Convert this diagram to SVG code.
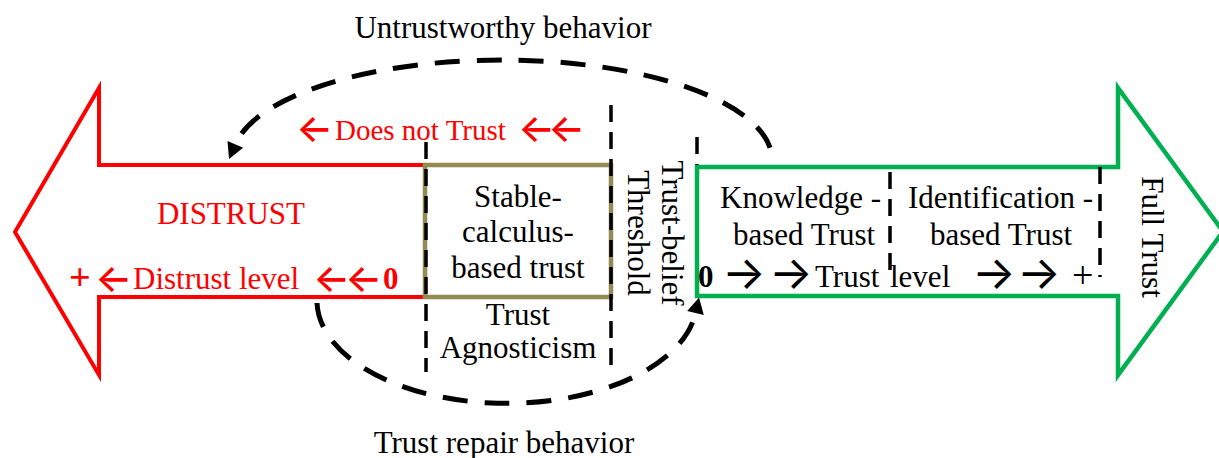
<svg xmlns="http://www.w3.org/2000/svg" width="1219" height="458" viewBox="0 0 1219 458">
  <style>
    text { font-family: "Liberation Serif", "Times New Roman", serif; font-size: 31px; fill: #000; }
    .red { fill: #FF0000; }
    .bold { font-weight: bold; }
    .mid { text-anchor: middle; }
    .arr { font-family: Inter, "DejaVu Sans", sans-serif; font-size: 39px; font-weight: 500; }
    .arr-g { font-family: Inter, "DejaVu Sans", sans-serif; font-size: 46px; font-weight: 400; }
    .zone { fill: none; stroke: #000; stroke-width: 3.5; stroke-dasharray: 17 10; }
    .loop { fill: none; stroke: #000; stroke-width: 5; stroke-dasharray: 25 17; }
  </style>
  <defs>
    <marker id="head" markerUnits="userSpaceOnUse" markerWidth="16" markerHeight="17" refX="0" refY="8.5" orient="auto" overflow="visible">
      <path d="M0,0 L16,8.5 L0,17 Z" fill="#000" stroke="none"/>
    </marker>
  </defs>
  <rect width="1219" height="458" fill="#fff"/>

  <!-- Distrust arrow (pointing left) -->
  <g id="distrust">
    <polygon points="15,232 99,88 99,165 425,165 425,297 99,297 99,375" fill="none" stroke="#FF0000" stroke-width="4" stroke-linejoin="miter"/>
    <text class="red mid" x="231" y="224">DISTRUST</text>
    <text class="red" y="290"><tspan x="69" class="bold" style="font-size:38px">+</tspan><tspan x="95" y="292" class="arr">←</tspan><tspan x="133" y="289">Distrust level</tspan><tspan x="313" y="292" class="arr">←</tspan><tspan x="345" y="292" class="arr">←</tspan><tspan x="383" y="289" class="bold">0</tspan></text>
    <text class="red" y="140" style="font-size:29px"><tspan x="296" y="142" class="arr">←</tspan><tspan x="335" y="140">Does not Trust</tspan><tspan x="518" y="142" class="arr">←</tspan><tspan x="548" y="142" class="arr">←</tspan></text>
  </g>

  <!-- Stable calculus-based trust -->
  <g id="calculus">
    <rect x="425" y="165" width="186" height="132" fill="none" stroke="#948A54" stroke-width="4.5"/>
    <text class="mid" x="518" y="207">Stable-</text>
    <text class="mid" x="518" y="242">calculus-</text>
    <text class="mid" x="518" y="278">based trust</text>
  </g>

  <!-- Trust agnosticism zone -->
  <g id="agnosticism">
    <text class="mid" x="518" y="325">Trust</text>
    <text class="mid" x="518" y="358">Agnosticism</text>
  </g>

  <!-- Trust-belief threshold (vertical) -->
  <g id="threshold">
    <text class="mid" transform="translate(662,233) rotate(90)"><tspan x="0" y="0">Trust-belief</tspan><tspan x="0" y="34">Threshold</tspan></text>
  </g>

  <!-- Trust arrow (pointing right) -->
  <g id="trust">
    <polygon points="697,167 1118,167 1118,88 1223,231.5 1118,375 1118,296 697,296" fill="none" stroke="#00B050" stroke-width="4.5" stroke-linejoin="miter"/>
    <text x="720" y="208">Knowledge -</text>
    <text x="733" y="245">based Trust</text>
    <text x="908" y="208">Identification -</text>
    <text x="930" y="245">based Trust</text>
    <text y="287"><tspan x="698" class="bold">0</tspan><tspan x="722" y="289" class="arr-g">→</tspan><tspan x="769" y="289" class="arr-g">→</tspan><tspan x="815" y="287">Trust</tspan><tspan x="890">level</tspan><tspan x="972" y="289" class="arr-g">→</tspan><tspan x="1017" y="289" class="arr-g">→</tspan><tspan x="1072" y="288" style="font-size:38px">+</tspan></text>
    <text class="mid" transform="translate(1142,237) rotate(90)">Full Trust</text>
  </g>

  <!-- Zone boundaries -->
  <g id="boundaries">
    <line class="zone" x1="426" y1="142" x2="426" y2="372"/>
    <line class="zone" x1="611" y1="105" x2="611" y2="370"/>
    <line class="zone" x1="697" y1="137" x2="697" y2="165"/>
    <line class="zone" x1="890" y1="172" x2="890" y2="272"/>
    <line class="zone" x1="1100" y1="167" x2="1100" y2="277"/>
  </g>

  <!-- Behaviour loops -->
  <g id="connectors">
    <path class="loop" d="M770,147.8 A270,100 0 0 0 235.3,144.4" marker-end="url(#head)"/>
    <path class="loop" d="M317,303 A190,103 0 0 0 695.5,313" marker-end="url(#head)"/>
    <text class="mid" x="503" y="38">Untrustworthy behavior</text>
    <text class="mid" x="504" y="453">Trust repair behavior</text>
  </g>
</svg>
